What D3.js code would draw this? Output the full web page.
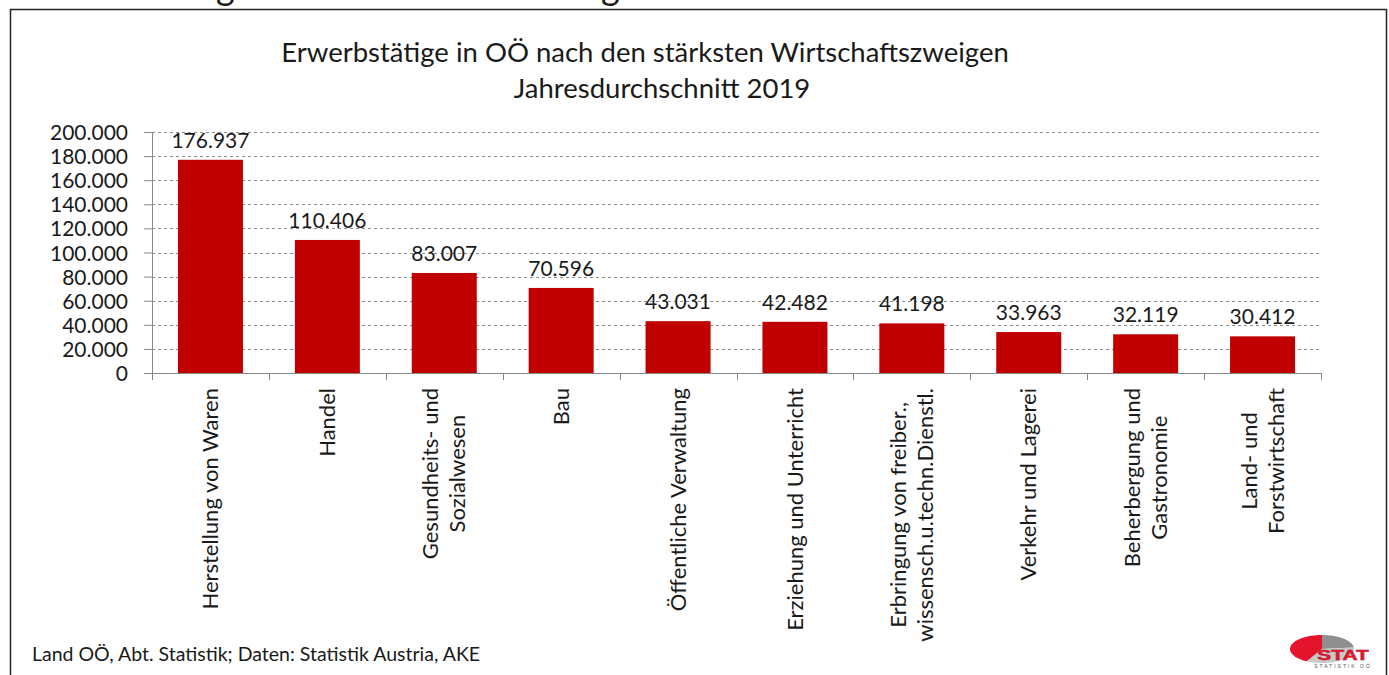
<!DOCTYPE html>
<html>
<head>
<meta charset="utf-8">
<script src="https://cdn.jsdelivr.net/npm/d3@7"></script>
<style>
  body { margin: 0; background: #fff; }
  svg text { font-family: Lato, "Open Sans", sans-serif; fill: #1a1a1a; }
</style>
</head>
<body>
<div id="chart"></div>
<script>
// data
var categories = [
  ["Herstellung von Waren"],
  ["Handel"],
  ["Gesundheits- und", "Sozialwesen"],
  ["Bau"],
  ["Öffentliche Verwaltung"],
  ["Erziehung und Unterricht"],
  ["Erbringung  von freiber.,", "wissensch.u.techn.Dienstl."],
  ["Verkehr und Lagerei"],
  ["Beherbergung und", "Gastronomie"],
  ["Land- und", "Forstwirtschaft"]
]
var values = [176937, 110406, 83007, 70596, 43031, 42482, 41198, 33963, 32119, 30412]
var yTicks = [0, 20000, 40000, 60000, 80000, 100000, 120000, 140000, 160000, 180000, 200000]
var titleLines = ["Erwerbstätige in OÖ nach den stärksten Wirtschaftszweigen", "Jahresdurchschnitt 2019"]
var sourceText = "Land OÖ, Abt. Statistik; Daten: Statistik Austria, AKE"

var W = 1389, H = 675
var margin = {top: 132, left: 152, right: 68, bottom: 302}
var width = W - margin.left - margin.right,
    height = H - margin.top - margin.bottom

// german number format with dot grouping
var de = d3.formatLocale({decimal: ",", thousands: ".", grouping: [3], currency: ["", " €"]})
var fmt = de.format(",d")

var svg = d3.select("#chart").append("svg")
    .attr("width", W)
    .attr("height", H)

// heading of the slide, cut off at the top
svg.append("text")
    .attr("x", 34)
    .attr("y", 0)
    .style("font-size", "36px")
    .text("Erwerbstätige nach Wirtschaftszweigen")

// frame
svg.append("rect")
    .attr("x", 10.5).attr("y", 9.5)
    .attr("width", 1376).attr("height", 700)
    .attr("fill", "none")
    .attr("stroke", "#222")
    .attr("stroke-width", 1.5)

// title
svg.selectAll(".title")
  .data(titleLines)
  .enter().append("text")
    .attr("class", "title")
    .attr("x", (d, i) => i == 0 ? 645 : 662)
    .attr("y", (d, i) => 62 + i * 36)
    .attr("text-anchor", "middle")
    .style("font-size", "27.5px")
    .text(d => d)

var g = svg.append("g")
    .attr("transform", "translate(" + margin.left + "," + margin.top + ")")

var x = d3.scaleBand()
    .domain(d3.range(categories.length))
    .range([0, width])
    .paddingInner(0.444)
    .paddingOuter(0.222)

var y = d3.scaleLinear()
    .domain([0, 200000])
    .range([height, 0])

// gridlines
g.append("g")
  .selectAll("line")
  .data(yTicks.slice(1))
  .enter().append("line")
    .attr("x1", 0).attr("x2", width)
    .attr("y1", d => Math.round(y(d)) + 0.5)
    .attr("y2", d => Math.round(y(d)) + 0.5)
    .attr("stroke", "#8c8c8c")
    .attr("stroke-dasharray", "3,3")

// y axis
var yAxis = g.append("g")
    .call(d3.axisLeft(y).tickValues(yTicks).tickSize(8).tickPadding(16).tickFormat(fmt))
yAxis.select(".domain").attr("stroke", "#868686")
yAxis.selectAll(".tick line").attr("stroke", "#868686")
yAxis.selectAll(".tick text")
    .style("font-size", "21px")
    .style("font-family", "Lato, sans-serif")
    .attr("fill", "#1a1a1a")
    .attr("dy", "0.36em")

// bars
g.append("g")
  .selectAll("rect")
  .data(values)
  .enter().append("rect")
    .attr("x", (d, i) => x(i))
    .attr("y", d => y(d))
    .attr("width", x.bandwidth())
    .attr("height", d => height - y(d))
    .attr("fill", "#c00000")

// value labels
g.append("g")
  .selectAll("text")
  .data(values)
  .enter().append("text")
    .attr("x", (d, i) => x(i) + x.bandwidth() / 2)
    .attr("y", d => y(d) - 12)
    .attr("text-anchor", "middle")
    .style("font-size", "21px")
    .text(d => fmt(d))

// x axis with ticks between categories
var step = x.step()
g.append("line")
    .attr("x1", 0).attr("x2", width)
    .attr("y1", height + 0.5).attr("y2", height + 0.5)
    .attr("stroke", "#868686")
g.append("g")
  .selectAll("line")
  .data(d3.range(categories.length + 1))
  .enter().append("line")
    .attr("x1", d => Math.round(d * step) + 0.5)
    .attr("x2", d => Math.round(d * step) + 0.5)
    .attr("y1", height).attr("y2", height + 7)
    .attr("stroke", "#868686")

// category labels, rotated
var lineH = 27
var labels = g.append("g")
  .selectAll("g")
  .data(categories)
  .enter().append("g")
    .attr("transform", (d, i) => "translate(" + (x(i) + x.bandwidth() / 2) + "," + (height + 15) + ") rotate(-90)")

labels.each(function(lines) {
  var el = d3.select(this)
  var t = el.selectAll("text")
    .data(lines)
    .enter().append("text")
      .attr("text-anchor", "middle")
      .style("font-size", "22px")
      .attr("y", (d, i) => (i - (lines.length - 1) / 2) * lineH)
      .attr("dy", "0.35em")
      .text(d => d)
  var maxLen = d3.max(t.nodes(), n => n.getComputedTextLength())
  t.attr("x", -maxLen / 2)
})

// source
svg.append("text")
    .attr("x", 32)
    .attr("y", 661)
    .style("font-size", "19.5px")
    .text(sourceText)

// logo
var logo = svg.append("g").attr("transform", "translate(1322,649)")
var rx = 32, ry = 14
function wedge(a0, a1) {
  var p = "M0,0"
  for (var k = 0; k <= 30; k++) {
    var a = a0 + (a1 - a0) * k / 30
    p += "L" + (rx * Math.cos(a)).toFixed(2) + "," + (ry * Math.sin(a)).toFixed(2)
  }
  return p + "Z"
}
logo.append("path").attr("d", wedge(-Math.PI / 2, -0.1)).attr("fill", "#8f8f8f")
logo.append("path").attr("d", wedge(-0.1, Math.PI * 0.66)).attr("fill", "#c8c8c8")
logo.append("path").attr("d", wedge(Math.PI * 0.66, Math.PI * 1.5)).attr("fill", "#e4142c")
logo.append("text")
    .attr("transform", "translate(21,11) scale(1.5,1)")
    .attr("text-anchor", "middle")
    .style("font-family", "'Liberation Sans', Arial, sans-serif")
    .style("font-weight", "bold")
    .style("font-size", "14px")
    .style("fill", "#e4142c")
    .attr("stroke", "#5a1010")
    .attr("stroke-width", 0.4)
    .attr("paint-order", "stroke")
    .text("STAT")
logo.append("text")
    .attr("x", 21).attr("y", 19)
    .attr("text-anchor", "middle")
    .style("font-family", "'Liberation Sans', Arial, sans-serif")
    .style("font-size", "5px")
    .style("letter-spacing", "2px")
    .style("fill", "#555")
    .text("STATISTIK OÖ")
</script>
</body>
</html>
